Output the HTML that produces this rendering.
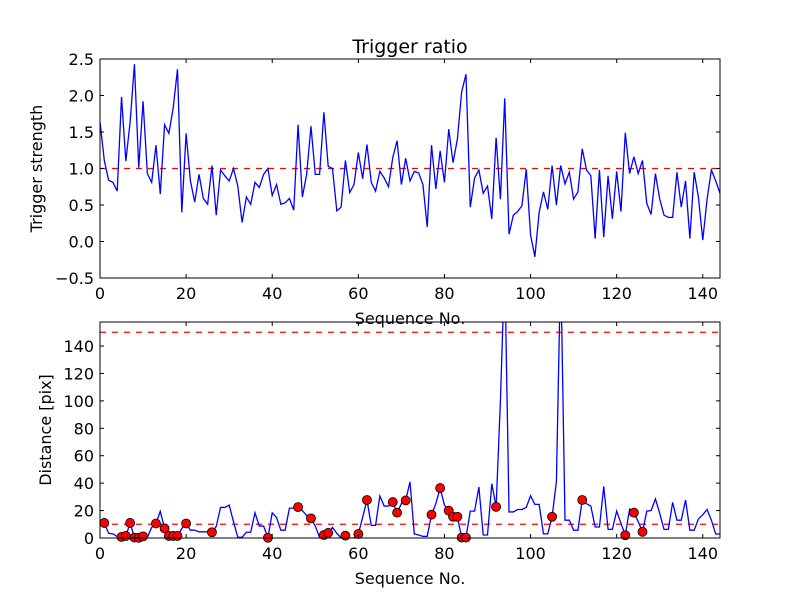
<!DOCTYPE html>
<html><head><meta charset="utf-8"><style>
body{margin:0;background:#fff}
svg text{font-family:"DejaVu Sans","Liberation Sans",sans-serif;fill:#000}
</style></head><body>
<svg id="c" width="800" height="600" xmlns="http://www.w3.org/2000/svg">
<rect width="800" height="600" fill="#fff"/>
</svg>
<script>
const ratioVals=[1.64,1.11,0.84,0.81,0.69,1.98,1.1,1.64,2.43,1.01,1.92,0.93,0.81,1.32,0.65,1.6,1.48,1.83,2.36,0.4,1.48,0.83,0.54,0.92,0.59,0.51,1.04,0.36,0.98,0.9,0.83,1.0,0.76,0.26,0.61,0.51,0.81,0.74,0.92,1.0,0.63,0.78,0.51,0.53,0.59,0.43,1.6,0.61,0.92,1.58,0.92,0.92,1.77,1.03,1.0,0.42,0.47,1.11,0.67,0.78,1.22,0.86,1.33,0.81,0.69,0.96,0.87,0.75,1.15,1.38,0.78,1.14,0.83,0.96,0.94,0.78,0.2,1.32,0.72,1.24,0.81,1.54,1.08,1.4,2.05,2.29,0.47,0.87,0.98,0.66,0.76,0.31,1.42,0.58,1.96,0.1,0.36,0.41,0.49,0.99,0.09,-0.21,0.4,0.68,0.44,1.04,0.5,1.04,0.79,0.95,0.58,0.68,1.27,0.98,0.9,0.04,0.98,0.06,0.9,0.31,0.96,0.41,1.49,0.93,1.16,0.93,1.11,0.52,0.37,0.93,0.58,0.36,0.33,0.33,0.95,0.47,0.83,0.04,0.95,0.6,0.02,0.58,0.98,0.83,0.66];
const distVals=[13,11,3.4,3,1,0.8,1.5,11,0.3,0.2,1.2,0.5,7.7,10.6,19.4,7,1.5,1.5,1.5,7,10.6,5.7,5.7,4.5,4.5,4.5,4.2,8.5,22.3,22.3,24,12,0.5,0.5,4.2,4.2,18.4,8.7,8.7,0.2,18.4,15,5.7,5.7,21.8,21.8,22.5,20,16.4,14.3,8.7,0.5,2.2,3.7,7.7,3.4,0,1.7,0,0,2.9,15,27.7,9.2,9.2,30.6,23.3,23.3,26.2,18.5,25,27.4,41,2.9,2.2,1.2,1.2,17,25,36.4,24,19.9,15.5,15.5,0.3,0.3,19.6,19.6,37.2,2.2,2.2,39.6,22.7,100,200,19,19,20.8,20.8,22.3,30.8,24.5,24.5,3,3,15.5,41,200,13,13,5.7,5.7,27.7,25,23.3,8,8,37.6,6.3,6.3,19.6,10.6,2,21,18.5,12,4.5,19.6,20,28.5,18,6.3,6.3,26,13,13,27.7,5.7,5.7,13.9,17,20.8,13,2.9,2.9];
const markerIdx=[1,5,6,7,8,9,10,13,15,16,17,18,20,26,39,46,49,52,53,57,60,62,68,69,71,77,79,81,82,83,84,85,92,105,112,122,124,126];
const xTicks=[0,20,40,60,80,100,120,140];
const topYTicks=[-0.5,0,0.5,1,1.5,2,2.5];
const topYLabels=["\u22120.5","0.0","0.5","1.0","1.5","2.0","2.5"];
const botYTicks=[0,20,40,60,80,100,120,140];
const ratioRef=[1.0];
const distRef=[10,150];

const svg=document.getElementById('c');
const NS='http://www.w3.org/2000/svg';
function mk(t,a,p){const e=document.createElementNS(NS,t);for(const k in a)e.setAttribute(k,a[k]);(p||svg).appendChild(e);return e;}
const L=100,R=720;
const sx=i=>L+(i/144)*(R-L);
const T1=59,B1=278,sy1=v=>B1-(v+0.5)/3*(B1-T1);
const T2=322,B2=538,ymax2=157.5,sy2=v=>B2-v/ymax2*(B2-T2);

function axes(top,bot,sy,yt,yl,name,ylab){
  const g=mk('g',{});
  
  
  xTicks.forEach(t=>{
    const x=sx(t);
    mk('line',{x1:x,x2:x,y1:bot,y2:bot-4,stroke:'#000','stroke-width':1},g);
    mk('line',{x1:x,x2:x,y1:top,y2:top+4,stroke:'#000','stroke-width':1},g);
    const tx=mk('text',{x:x,y:bot+21,'text-anchor':'middle','font-size':16},g);tx.textContent=t;
    
    
  });
  yt.forEach((t,k)=>{
    const y=sy(t);
    mk('line',{x1:L,x2:L+4,y1:y,y2:y,stroke:'#000','stroke-width':1},g);
    mk('line',{x1:R,x2:R-4,y1:y,y2:y,stroke:'#000','stroke-width':1},g);
    const tx=mk('text',{x:L-6,y:y+6,'text-anchor':'end','font-size':16},g);tx.textContent=yl[k];
    
    
  });
  const xl=mk('text',{x:410,y:bot+46,'text-anchor':'middle','font-size':16},g);xl.textContent='Sequence No.';
  
  
  const yx=(top+bot)/2;
  const yln=mk('text',{x:0,y:0,'text-anchor':'middle','font-size':16,transform:`translate(${ylab.x},${yx}) rotate(-90)`},g);yln.textContent=ylab.t;
  
  
  return g;
}
mk('defs',{}).innerHTML='<clipPath id="c1"><rect x="100" y="59" width="620" height="219"/></clipPath><clipPath id="c2"><rect x="100" y="322" width="620" height="216"/></clipPath>';

const g1=mk('g',{'clip-path':'url(#c1)'});


ratioRef.forEach(v=>{const l=mk('line',{x1:L,x2:R,y1:sy1(v),y2:sy1(v),stroke:'#f00','stroke-width':1.3,'stroke-dasharray':'6,6'},g1);

});
const p1=mk('polyline',{points:ratioVals.map((v,i)=>sx(i)+','+sy1(v)).join(' '),fill:'none',stroke:'#00f','stroke-width':1.3},g1);


const f1=mk('rect',{x:L,y:T1,width:R-L,height:B1-T1,fill:'none',stroke:'#000','stroke-width':1});


axes(T1,B1,sy1,topYTicks,topYLabels,'ratio-axes',{x:42,t:'Trigger strength'});
const ti=mk('text',{x:410,y:53,'text-anchor':'middle','font-size':19});ti.textContent='Trigger ratio';



const g2=mk('g',{'clip-path':'url(#c2)'});


distRef.forEach(v=>{const l=mk('line',{x1:L,x2:R,y1:sy2(v),y2:sy2(v),stroke:'#f00','stroke-width':1.3,'stroke-dasharray':'6,6'},g2);

});
const p2=mk('polyline',{points:distVals.map((v,i)=>sx(i)+','+sy2(v)).join(' '),fill:'none',stroke:'#00f','stroke-width':1.3},g2);


const g3=mk('g',{});
markerIdx.forEach(i=>{const c=mk('circle',{cx:sx(i),cy:sy2(distVals[i]),r:4.5,fill:'#f00',stroke:'#000','stroke-width':0.8},g3);

});
const f2=mk('rect',{x:L,y:T2,width:R-L,height:B2-T2,fill:'none',stroke:'#000','stroke-width':1});


axes(T2,B2,sy2,botYTicks,botYTicks.map(String),'distance-axes',{x:51,t:'Distance [pix]'});
</script>
</body></html>
